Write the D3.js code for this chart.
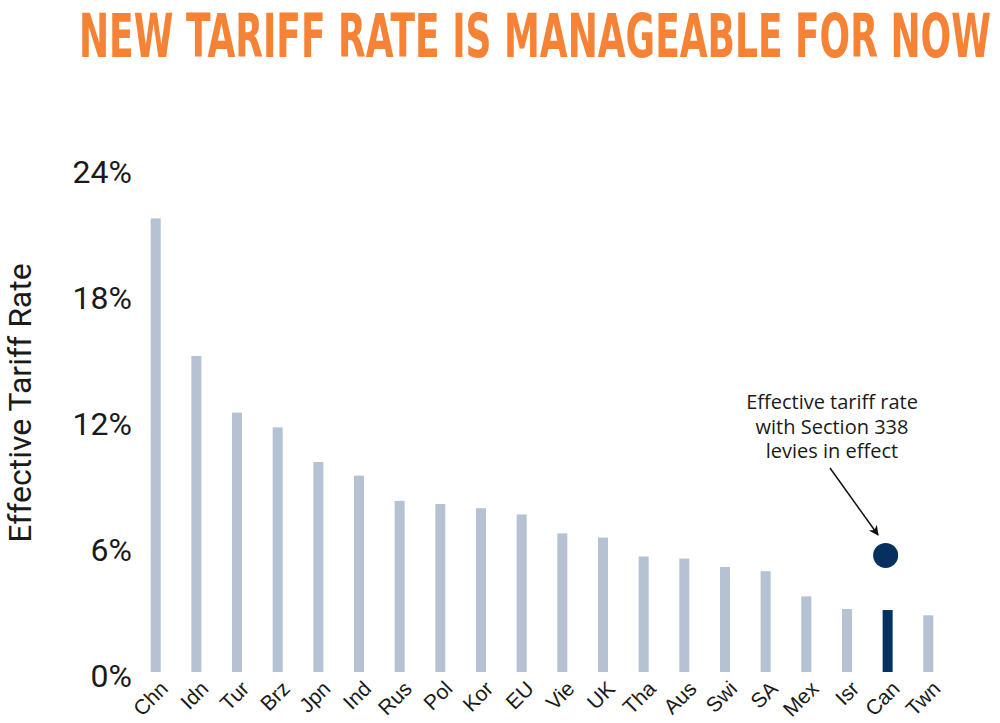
<!DOCTYPE html>
<html>
<head>
<meta charset="utf-8">
<script src="https://cdn.jsdelivr.net/npm/d3@7"></script>
<style>
  body { margin: 0; background: #fff; }
  svg { display: block; }
</style>
</head>
<body>
<div id="chart"></div>
<script>
// DATA //

const countries = ["Chn", "Idn", "Tur", "Brz", "Jpn", "Ind", "Rus", "Pol", "Kor", "EU",
  "Vie", "UK", "Tha", "Aus", "Swi", "SA", "Mex", "Isr", "Can", "Twn"];
const rates = [21.6, 15.05, 12.35, 11.65, 10.0, 9.35, 8.15, 8.0, 7.8, 7.5,
  6.6, 6.4, 5.5, 5.4, 5.0, 4.8, 3.6, 3.0, 2.95, 2.7];
const highlight = "Can";
const section338Rate = 5.55;
const yTicks = [0, 6, 12, 18, 24];
const titleText = "NEW TARIFF RATE IS MANAGEABLE FOR NOW";
const yLabel = "Effective Tariff Rate";
const noteLines = ["Effective tariff rate", "with Section 338", "levies in effect"];

const data = countries.map((c, i) => ({ country: c, rate: rates[i] }));

// DIMENSIONS //

const width = 1000;
const height = 723;

const svg = d3.select("#chart")
  .append("svg")
  .attr("width", width)
  .attr("height", height);

// Scales
const x = d3.scalePoint().domain(countries).range([155.7, 928.3]);
const y = d3.scaleLinear().domain([0, 24]).range([672, 168]);

// Title: squeeze horizontally so it spans the same width as the reference
const title = svg.append("text")
  .attr("font-family", "'DejaVu Sans Condensed', 'DejaVu Sans', sans-serif")
  .attr("font-weight", "bold")
  .attr("font-size", 60)
  .attr("fill", "#f58235")
  .text(titleText);
const titleWidth = title.node().getComputedTextLength();
title.attr("transform", `translate(79,57) scale(${912 / titleWidth},1)`);

// Y axis label
svg.append("text")
  .attr("transform", "translate(31,403) rotate(-90)")
  .attr("text-anchor", "middle")
  .attr("font-family", "Roboto, sans-serif")
  .attr("font-size", 32)
  .attr("fill", "#1a1a1a")
  .text(yLabel);

// Y axis
const yAxis = svg.append("g")
  .attr("transform", "translate(132,4)")
  .call(d3.axisLeft(y).tickValues(yTicks).tickFormat((d) => d + "%").tickSize(0).tickPadding(0));
yAxis.select(".domain").remove();
yAxis.selectAll("text")
  .attr("font-family", "Roboto, sans-serif")
  .attr("font-size", 32)
  .attr("fill", "#1a1a1a");

// X axis labels
const xAxis = svg.append("g")
  .attr("transform", `translate(0,${y(0)})`)
  .call(d3.axisBottom(x).tickSize(0).tickPadding(0));
xAxis.select(".domain").remove();
xAxis.selectAll("text")
  .attr("font-family", "'Liberation Sans', Arial, sans-serif")
  .attr("font-size", 21)
  .attr("fill", "#1a1a1a")
  .attr("text-anchor", "end")
  .attr("dy", 0)
  .attr("transform", "translate(13,18) rotate(-45)");

// Bars
const barWidth = 10;
svg.append("g")
  .selectAll("rect")
  .data(data)
  .join("rect")
  .attr("x", (d) => x(d.country) - barWidth / 2)
  .attr("y", (d) => y(d.rate))
  .attr("width", barWidth)
  .attr("height", (d) => y(0) - y(d.rate))
  .attr("fill", (d) => (d.country === highlight ? "#06305f" : "#b4c2d3"));

// Section 338 dot
svg.append("circle")
  .attr("cx", x(highlight) - 2)
  .attr("cy", y(section338Rate))
  .attr("r", 12.5)
  .attr("fill", "#06305f");

// Annotation
svg.append("defs")
  .append("marker")
  .attr("id", "arrow")
  .attr("viewBox", "0 0 10 10")
  .attr("refX", 9)
  .attr("refY", 5)
  .attr("markerWidth", 12)
  .attr("markerHeight", 10)
  .attr("markerUnits", "userSpaceOnUse")
  .attr("orient", "auto")
  .append("path")
  .attr("d", "M0,0 L10,5 L0,10 L3,5 Z")
  .attr("fill", "#111");

svg.append("line")
  .attr("x1", 830)
  .attr("y1", 468)
  .attr("x2", 878)
  .attr("y2", 535)
  .attr("stroke", "#111")
  .attr("stroke-width", 1.5)
  .attr("marker-end", "url(#arrow)");

svg.append("text")
  .attr("x", 832)
  .attr("y", 409)
  .attr("text-anchor", "middle")
  .attr("font-family", "'Open Sans', sans-serif")
  .attr("font-size", 20)
  .attr("fill", "#1a1a1a")
  .selectAll("tspan")
  .data(noteLines)
  .join("tspan")
  .attr("x", 832)
  .attr("dy", (d, i) => (i === 0 ? 0 : 24.5))
  .text((d) => d);
</script>
</body>
</html>
